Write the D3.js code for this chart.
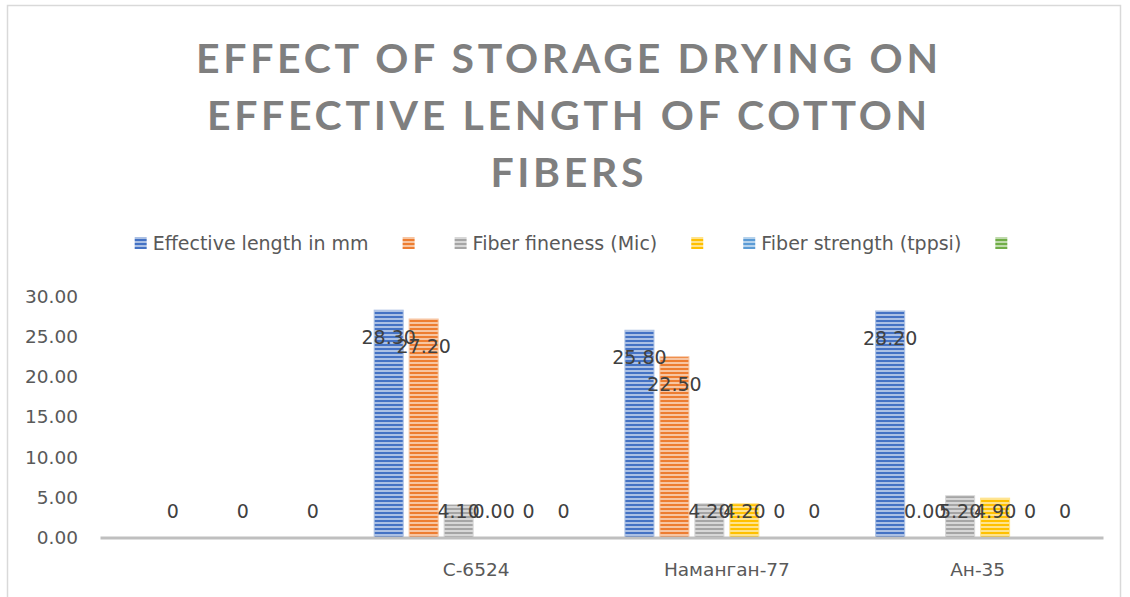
<!DOCTYPE html>
<html>
<head>
<meta charset="utf-8">
<script src="https://cdn.jsdelivr.net/npm/d3@7"></script>
<style>
  body { margin: 0; background: #fff; }
</style>
</head>
<body>
<div id="chart"></div>
<script>
// Effect of storage drying - clustered columns with striped fills
const width = 1130;
const height = 597;

const titleLines = ["EFFECT OF STORAGE DRYING ON", "EFFECTIVE LENGTH OF COTTON", "FIBERS"];
const categories = ["", "С-6524", "Наманган-77", "Ан-35"];
const seriesNames = ["Effective length in mm", "", "Fiber fineness (Mic)", "", "Fiber strength (tppsi)", ""];
const seriesColors = ["#4472c4", "#ed7d31", "#a5a5a5", "#ffc000", "#5b9bd5", "#70ad47"];

// values per series (null = empty cell)
const effectiveLength = [null, 28.3, 25.8, 28.2];
const series2Values = [0, 27.2, 22.5, 0];
const fiberFineness = [null, 4.1, 4.2, 5.2];
const series4Values = [0, 0, 4.2, 4.9];
const fiberStrength = [null, 0, 0, 0];
const series6Values = [0, 0, 0, 0];

// data label text as shown on the chart
const effectiveLengthLabels = [null, "28.30", "25.80", "28.20"];
const series2Labels = ["0", "27.20", "22.50", "0.00"];
const fiberFinenessLabels = [null, "4.10", "4.20", "5.20"];
const series4Labels = ["0", "0.00", "4.20", "4.90"];
const fiberStrengthLabels = [null, "0", "0", "0"];
const series6Labels = ["0", "0", "0", "0"];

const yTicks = [0, 5, 10, 15, 20, 25, 30];

const allValues = [effectiveLength, series2Values, fiberFineness, series4Values, fiberStrength, series6Values];
const allLabels = [effectiveLengthLabels, series2Labels, fiberFinenessLabels, series4Labels, fiberStrengthLabels, series6Labels];

const series = seriesNames.map((name, i) => ({
    key: "s" + i,
    name: name,
    color: seriesColors[i],
    values: allValues[i],
    labels: allLabels[i]
}));

const svg = d3.select("#chart")
    .append("svg")
    .attr("width", width)
    .attr("height", height)
    .attr("font-family", "'DejaVu Sans', sans-serif");

// chart border
svg.append("rect")
    .attr("x", 7.5)
    .attr("y", 5.5)
    .attr("width", 1113)
    .attr("height", 620)
    .attr("fill", "#fff")
    .attr("stroke", "#d9d9d9")
    .attr("stroke-width", 1.5);

// striped pattern fills
const defs = svg.append("defs");
series.forEach(s => {
    const light = d3.interpolateRgb(s.color, "#ffffff")(0.55);
    const p = defs.append("pattern")
        .attr("id", "pat-" + s.key)
        .attr("patternUnits", "userSpaceOnUse")
        .attr("width", 4)
        .attr("height", 4);
    p.append("rect").attr("width", 4).attr("height", 4).attr("fill", light);
    p.append("rect").attr("width", 4).attr("height", 2).attr("fill", s.color);
    s.light = light;
});

// title
const titleG = svg.append("g");
const titleCenter = 567;
const titleTarget = 742;
const titleTexts = titleG.selectAll("text")
    .data(titleLines)
    .join("text")
    .attr("y", (d, i) => 73 + i * 57)
    .attr("font-family", "Lato, sans-serif")
    .attr("font-weight", "bold")
    .attr("font-size", 41)
    .attr("fill", "#7f7f7f")
    .text(d => d);

const nat0 = titleTexts.nodes()[0].getComputedTextLength();
const spacing = (titleTarget - nat0) / (titleLines[0].length - 1);
titleTexts.each(function (d) {
    const nat = this.getComputedTextLength();
    const w = nat + spacing * (d.length - 1);
    d3.select(this)
        .attr("letter-spacing", spacing)
        .attr("x", titleCenter - w / 2);
});

// scales
const x0 = d3.scaleBand()
    .domain(categories.map((c, i) => i))
    .range([100, 1103]);

const x1 = d3.scaleBand()
    .domain(series.map(s => s.key))
    .range([0, x0.bandwidth()])
    .paddingInner(0.17)
    .paddingOuter(0.67);

const y = d3.scaleLinear()
    .domain([0, 30])
    .range([537.5, 296.5]);

// y axis labels
svg.append("g")
    .attr("transform", "translate(100,0)")
    .call(d3.axisLeft(y).tickValues(yTicks).tickSize(0).tickPadding(22).tickFormat(d3.format(".2f")))
    .call(g => g.select(".domain").remove())
    .call(g => g.selectAll("text")
        .attr("font-family", "'DejaVu Sans', sans-serif")
        .attr("font-size", 18.5)
        .attr("fill", "#595959"));

// bars
const groups = svg.append("g")
    .selectAll("g")
    .data(categories.map((c, i) => i))
    .join("g")
    .attr("transform", i => `translate(${x0(i)},0)`);

groups.selectAll("rect")
    .data(i => series.filter(s => s.values[i] !== null).map(s => ({ s: s, v: s.values[i] })))
    .join("rect")
    .attr("x", d => x1(d.s.key))
    .attr("width", x1.bandwidth())
    .attr("y", d => y(d.v))
    .attr("height", d => y(0) - y(d.v))
    .attr("fill", d => `url(#pat-${d.s.key})`)
    .attr("stroke", d => d.v > 0 ? d.s.light : "none")
    .attr("stroke-width", 1);

// x axis
svg.append("g")
    .attr("transform", `translate(0,${y(0)})`)
    .call(d3.axisBottom(x0).tickSize(0).tickSizeOuter(0).tickPadding(25).tickFormat(i => categories[i]))
    .call(g => g.select(".domain").attr("stroke", "#bfbfbf").attr("stroke-width", 3))
    .call(g => g.selectAll("text")
        .attr("font-family", "'DejaVu Sans', sans-serif")
        .attr("font-size", 18.5)
        .attr("fill", "#595959"));

// data labels
groups.selectAll("text.lbl")
    .data(i => series.filter(s => s.labels[i] !== null).map(s => ({ s: s, v: s.values[i], t: s.labels[i] })))
    .join("text")
    .attr("class", "lbl")
    .attr("x", d => x1(d.s.key) + x1.bandwidth() / 2)
    .attr("y", d => Math.min(y(d.v) + 27, y(0) - 26))
    .attr("dy", "0.36em")
    .attr("text-anchor", "middle")
    .attr("font-family", "'DejaVu Sans', sans-serif")
    .attr("font-size", 19)
    .attr("fill", "#404040")
    .text(d => d.t);

// legend
const legend = svg.append("g");
const items = legend.selectAll("g")
    .data(series)
    .join("g");

items.append("rect")
    .attr("width", 12)
    .attr("height", 12)
    .attr("y", -6)
    .attr("fill", d => `url(#pat-${d.key})`);

items.append("text")
    .attr("x", 18)
    .attr("dy", "0.35em")
    .attr("font-family", "'DejaVu Sans', sans-serif")
    .attr("font-size", 19)
    .attr("fill", "#595959")
    .text(d => d.name);

let cursor = 0;
const offsets = [];
items.each(function (d) {
    const tw = d.name ? d3.select(this).select("text").node().getComputedTextLength() : 0;
    offsets.push(cursor);
    cursor += 18 + tw + 34;
});
const legendWidth = cursor - 34;
const legendStart = 574 - legendWidth / 2;
items.attr("transform", (d, i) => `translate(${legendStart + offsets[i]},243)`);
</script>
</body>
</html>
